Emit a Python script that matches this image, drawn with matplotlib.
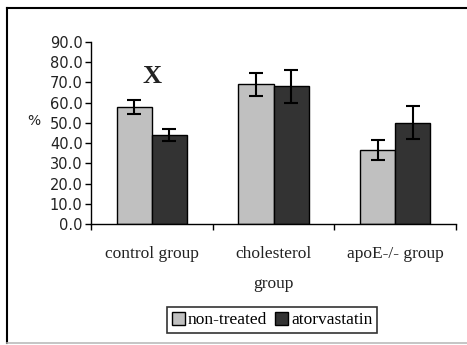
import numpy as np
import matplotlib
matplotlib.use('Agg')
import matplotlib.pyplot as plt
from matplotlib.lines import Line2D

# datos
groups = ['control group', 'cholesterol\ngroup', 'apoE-/- group']
non_treated = [58.0, 69.0, 36.5]
non_treated_err = [3.5, 5.5, 5.0]
atorvastatin = [44.0, 68.0, 50.0]
atorvastatin_err = [3.2, 8.0, 8.2]
yticks = np.arange(0, 91, 10)

fig = plt.figure(figsize=(4.67, 3.45), dpi=100)
ax = fig.add_axes([91 / 467, 1 - 224 / 345, 365 / 467, 182 / 345])

x = np.arange(len(groups)) + 0.5
w = 0.29
err_kw = dict(ecolor='black', elinewidth=1.5, capsize=5, capthick=1.5)
ax.bar(x - w / 2, non_treated, w, yerr=non_treated_err, color='#c0c0c0',
       edgecolor='black', linewidth=1, label='non-treated', error_kw=err_kw)
ax.bar(x + w / 2, atorvastatin, w, yerr=atorvastatin_err, color='#333333',
       edgecolor='black', linewidth=1, label='atorvastatin', error_kw=err_kw)

ax.set_xlim(0, 3)
ax.set_ylim(0, 90)
ax.set_yticks(yticks)
ax.set_yticklabels(['%.1f' % v for v in yticks], family='DejaVu Sans',
                   fontsize=10.5, color='#222222')
ax.set_xticks([0, 1, 2, 3])
ax.set_xticklabels([])
ax.tick_params(axis='both', direction='out', length=4, width=1, pad=2)
for s in ['top', 'right']:
    ax.spines[s].set_visible(False)
for s in ['left', 'bottom']:
    ax.spines[s].set_linewidth(1)

for xi, g in zip(x, groups):
    ax.text(xi, -11, g, ha='center', va='top', family='Liberation Serif',
            fontsize=12.5, linespacing=2.15, color='#222222')

ax.text(-0.47, 51, '%', ha='center', va='center', family='DejaVu Sans',
        fontsize=10, color='#222222')
ax.text(0.5, 73, 'X', ha='center', va='center', family='Liberation Serif',
        fontsize=19, fontweight='bold', color='#222222')

leg = fig.legend(loc='center', bbox_to_anchor=(272 / 467, 1 - 320 / 345),
                 ncol=2, frameon=True, fancybox=False, edgecolor='black',
                 prop={'family': 'Liberation Serif', 'size': 12.5},
                 handlelength=0.75, handleheight=0.75, handletextpad=0.15,
                 columnspacing=0.5, borderpad=0.25)
leg.get_frame().set_linewidth(1.2)

# marco exterior
fig.add_artist(Line2D([7 / 467, 7 / 467], [2 / 345, 337 / 345],
                      transform=fig.transFigure, color='black', lw=1.5))
fig.add_artist(Line2D([7 / 467, 1], [337 / 345, 337 / 345],
                      transform=fig.transFigure, color='black', lw=1.5))
fig.add_artist(Line2D([7 / 467, 1], [2 / 345, 2 / 345],
                      transform=fig.transFigure, color='#bbbbbb', lw=1.2))

plt.savefig('out.png', dpi=100)
